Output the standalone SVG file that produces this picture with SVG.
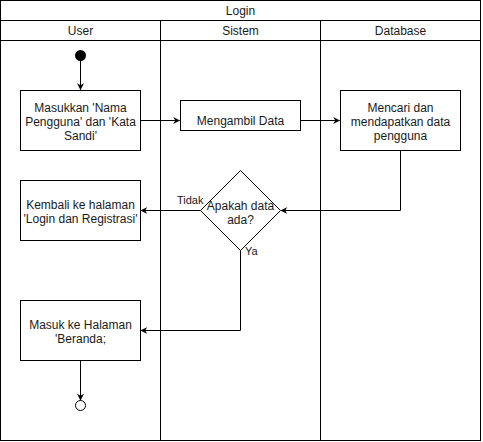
<svg xmlns="http://www.w3.org/2000/svg" width="483" height="442" viewBox="0 0 483 442">
<defs>
<style>
.ln{fill:none;stroke:#000;stroke-width:1}
.box{fill:#fff;stroke:#000;stroke-width:1}
.t{font-family:"Liberation Sans",Arial,sans-serif;font-size:12px;fill:#1a1a1a;text-anchor:middle}
.lbl{font-family:"Liberation Sans",Arial,sans-serif;font-size:11px;fill:#1a1a1a}
</style>
<marker id="ah" viewBox="0 0 10 10" refX="9" refY="5" markerWidth="7" markerHeight="7" markerUnits="userSpaceOnUse" orient="auto">
<path d="M0,0 L10,5 L0,10 L3,5 Z" fill="#000"/>
</marker>
</defs>
<rect width="483" height="442" fill="#fff"/>
<g id="pool">
<rect class="box" x="0.5" y="0.5" width="480" height="440"/>
<line class="ln" x1="0.5" y1="20.5" x2="480.5" y2="20.5"/>
<line class="ln" x1="0.5" y1="40.5" x2="480.5" y2="40.5"/>
<line class="ln" x1="160.5" y1="20.5" x2="160.5" y2="440.5"/>
<line class="ln" x1="320.5" y1="20.5" x2="320.5" y2="440.5"/>
<text class="t" x="240.5" y="15">Login</text>
<text class="t" x="80.5" y="35">User</text>
<text class="t" x="240.5" y="35">Sistem</text>
<text class="t" x="400.5" y="35">Database</text>
</g>
<g id="connectors">
<line class="ln" x1="80.5" y1="60" x2="80.5" y2="89.5" marker-end="url(#ah)"/>
<line class="ln" x1="140.5" y1="120.5" x2="179.5" y2="120.5" marker-end="url(#ah)"/>
<line class="ln" x1="300.5" y1="120.5" x2="339.5" y2="120.5" marker-end="url(#ah)"/>
<polyline class="ln" points="400.5,150.5 400.5,210.5 281,210.5" marker-end="url(#ah)"/>
<line class="ln" x1="200.5" y1="210.5" x2="141" y2="210.5" marker-end="url(#ah)"/>
<polyline class="ln" points="240.5,250.5 240.5,330.5 141,330.5" marker-end="url(#ah)"/>
<line class="ln" x1="80.5" y1="360.5" x2="80.5" y2="400" marker-end="url(#ah)"/>
<text class="lbl" x="177" y="204">Tidak</text>
<text class="lbl" x="245" y="255">Ya</text>
</g>
<g id="start"><circle cx="80.5" cy="55.5" r="5.5" fill="#000"/></g>
<g id="input">
<rect class="box" x="20.5" y="90.5" width="120" height="60"/>
<text class="t" x="80.5" y="112">Masukkan 'Nama</text>
<text class="t" x="80.5" y="126">Pengguna' dan 'Kata</text>
<text class="t" x="80.5" y="140">Sandi'</text>
</g>
<g id="ambil">
<rect class="box" x="180.5" y="100.5" width="120" height="30"/>
<text class="t" x="240.5" y="125">Mengambil Data</text>
</g>
<g id="cari">
<rect class="box" x="340.5" y="90.5" width="120" height="60"/>
<text class="t" x="400.5" y="112">Mencari dan</text>
<text class="t" x="400.5" y="126">mendapatkan data</text>
<text class="t" x="400.5" y="140">pengguna</text>
</g>
<g id="decision">
<polygon class="box" points="240.5,170.5 280.5,210.5 240.5,250.5 200.5,210.5"/>
<text class="t" x="240.5" y="210">Apakah data</text>
<text class="t" x="240.5" y="224">ada?</text>
</g>
<g id="kembali">
<rect class="box" x="20.5" y="180.5" width="120" height="60"/>
<text class="t" x="80.5" y="209">Kembali ke halaman</text>
<text class="t" x="80.5" y="223">'Login dan Registrasi'</text>
</g>
<g id="masuk">
<rect class="box" x="20.5" y="300.5" width="120" height="60"/>
<text class="t" x="80.5" y="329">Masuk ke Halaman</text>
<text class="t" x="80.5" y="343">'Beranda;</text>
</g>
<g id="end"><circle cx="80.5" cy="405.5" r="5" fill="#fff" stroke="#000" stroke-width="1"/></g>
</svg>
